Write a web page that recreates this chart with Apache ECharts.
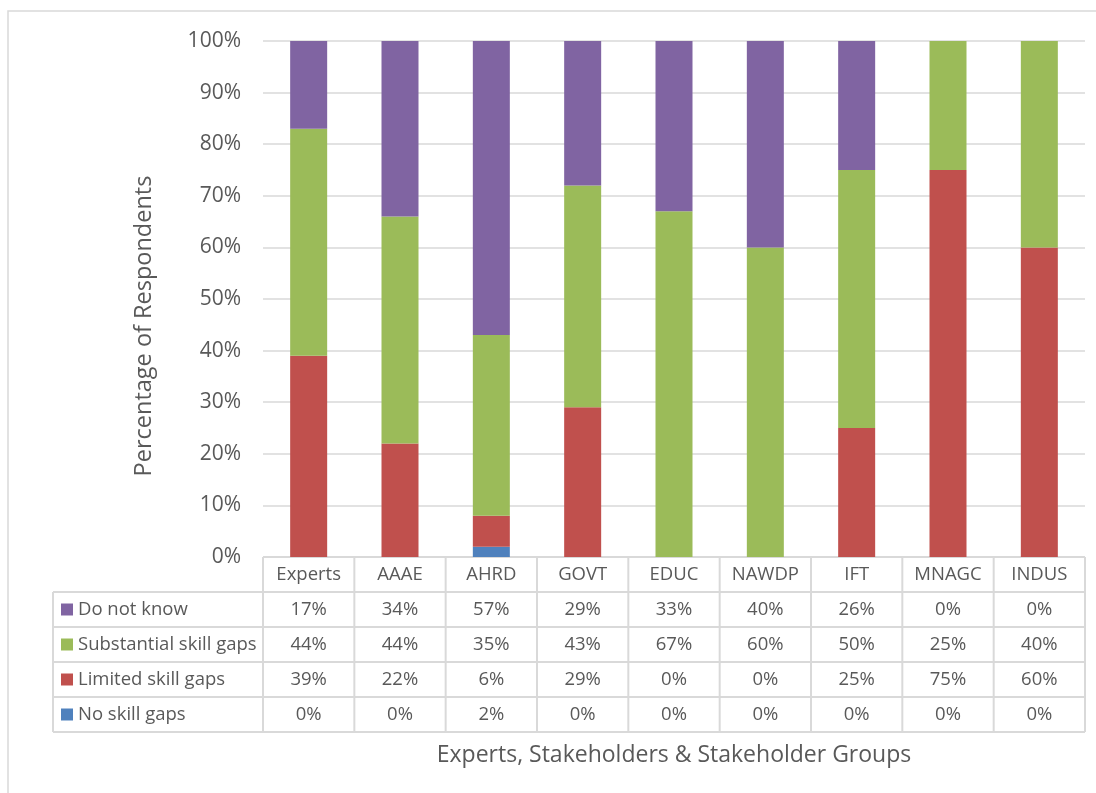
<!DOCTYPE html>
<html>
<head>
<meta charset="utf-8">
<script src="https://cdn.jsdelivr.net/npm/echarts@6/dist/echarts.min.js"></script>
<style>
  html, body { margin: 0; padding: 0; background: #ffffff; }
  #chart { width: 1096px; height: 793px; }
</style>
</head>
<body>
<div id="chart"></div>
<script>
// Respondent groups along the category axis
const categories = ['Experts', 'AAAE', 'AHRD', 'GOVT', 'EDUC', 'NAWDP', 'IFT', 'MNAGC', 'INDUS'];

// Share of respondents (%) per answer, one value per group
const doNotKnow   = [17, 34, 57, 29, 33, 40, 26, 0, 0];
const substantial = [44, 44, 35, 43, 67, 60, 50, 25, 40];
const limited     = [39, 22, 6, 29, 0, 0, 25, 75, 60];
const noGaps      = [0, 0, 2, 0, 0, 0, 0, 0, 0];

// Percentage axis ticks
const yTicks = [0, 10, 20, 30, 40, 50, 60, 70, 80, 90, 100];

const FONT = '"Open Sans", "Noto Sans", sans-serif';
const TEXT = '#595959';
const LINE = '#d9d9d9';

// Table rows, top to bottom (reverse of stacking order)
const rows = [
  { name: 'Do not know', color: '#8064A2', values: doNotKnow },
  { name: 'Substantial skill gaps', color: '#9BBB59', values: substantial },
  { name: 'Limited skill gaps', color: '#C0504D', values: limited },
  { name: 'No skill gaps', color: '#4F81BD', values: noGaps }
];
const stackOrder = rows.slice().reverse();

const chart = echarts.init(document.getElementById('chart'), null, { renderer: 'canvas' });

const GRID = { left: 263, right: 11, top: 41, bottom: 236 };
const ROW_H = 35;
const TABLE_LEFT = 53;
const CELL_FONT = '18.5px ' + FONT;

chart.setOption({
  animation: false,
  backgroundColor: '#ffffff',
  grid: GRID,
  xAxis: {
    type: 'category',
    data: categories,
    axisLine: { show: false },
    axisTick: { show: false },
    axisLabel: { show: false }
  },
  yAxis: {
    type: 'value',
    min: yTicks[0],
    max: yTicks[yTicks.length - 1],
    interval: yTicks[1] - yTicks[0],
    axisLine: { show: false },
    axisTick: { show: false },
    axisLabel: {
      formatter: '{value}%',
      fontFamily: FONT,
      fontSize: 21,
      color: TEXT,
      margin: 22
    },
    splitLine: { lineStyle: { color: LINE, width: 1.5 } }
  },
  series: stackOrder.map(r => ({
    name: r.name,
    type: 'bar',
    stack: 'total',
    barWidth: 37,
    data: r.values,
    itemStyle: { color: r.color }
  }))
});

// Data table under the plot, laid out from the category axis positions
function drawTable() {
  const gridRect = chart.getModel().getComponent('grid').coordinateSystem.getRect();
  const x0 = gridRect.x;
  const x1 = gridRect.x + gridRect.width;
  const yTop = gridRect.y + gridRect.height;
  const colW = gridRect.width / categories.length;
  const yHead = yTop + ROW_H;
  const yEnd = yHead + ROW_H * rows.length;
  const els = [];
  const lineStyle = { stroke: LINE, lineWidth: 2 };

  // outer frame of the chart area
  els.push({ type: 'rect', shape: { x: 8, y: 11, width: 1096, height: 800 },
    style: { fill: null, stroke: LINE, lineWidth: 1.5 }, silent: true });

  // horizontal rules
  els.push({ type: 'line', shape: { x1: x0, y1: yTop, x2: x1, y2: yTop }, style: lineStyle });
  for (let i = 0; i <= rows.length; i++) {
    const y = yHead + i * ROW_H;
    els.push({ type: 'line', shape: { x1: TABLE_LEFT, y1: y, x2: x1, y2: y }, style: lineStyle });
  }
  // vertical rules
  els.push({ type: 'line', shape: { x1: TABLE_LEFT, y1: yHead, x2: TABLE_LEFT, y2: yEnd }, style: lineStyle });
  for (let c = 0; c <= categories.length; c++) {
    const x = x0 + c * colW;
    els.push({ type: 'line', shape: { x1: x, y1: yTop, x2: x, y2: yEnd }, style: lineStyle });
  }

  // category header cells
  categories.forEach((cat) => {
    const cx = chart.convertToPixel({ xAxisIndex: 0 }, cat);
    els.push({ type: 'text', x: cx, y: yTop + ROW_H / 2,
      style: { text: cat, fill: TEXT, font: CELL_FONT, align: 'center', verticalAlign: 'middle' } });
  });

  // series rows: legend key, name, values
  rows.forEach((r, i) => {
    const cy = yHead + i * ROW_H + ROW_H / 2;
    els.push({ type: 'rect', shape: { x: TABLE_LEFT + 8, y: cy - 6, width: 12, height: 12 },
      style: { fill: r.color } });
    els.push({ type: 'text', x: TABLE_LEFT + 25, y: cy,
      style: { text: r.name, fill: TEXT, font: CELL_FONT, align: 'left', verticalAlign: 'middle' } });
    r.values.forEach((v, c) => {
      const cx = chart.convertToPixel({ xAxisIndex: 0 }, categories[c]);
      els.push({ type: 'text', x: cx, y: cy,
        style: { text: v + '%', fill: TEXT, font: CELL_FONT, align: 'center', verticalAlign: 'middle' } });
    });
  });

  // value axis title
  els.push({ type: 'text', x: 144, y: 326, rotation: Math.PI / 2,
    style: { text: 'Percentage of Respondents', fill: TEXT, font: '23.5px ' + FONT,
      align: 'center', verticalAlign: 'middle' } });

  // category axis title
  els.push({ type: 'text', x: 674, y: yEnd + 23,
    style: { text: 'Experts, Stakeholders & Stakeholder Groups', fill: TEXT, font: '23px ' + FONT,
      align: 'center', verticalAlign: 'middle' } });

  chart.setOption({ graphic: { elements: els } });
}
drawTable();
</script>
</body>
</html>
